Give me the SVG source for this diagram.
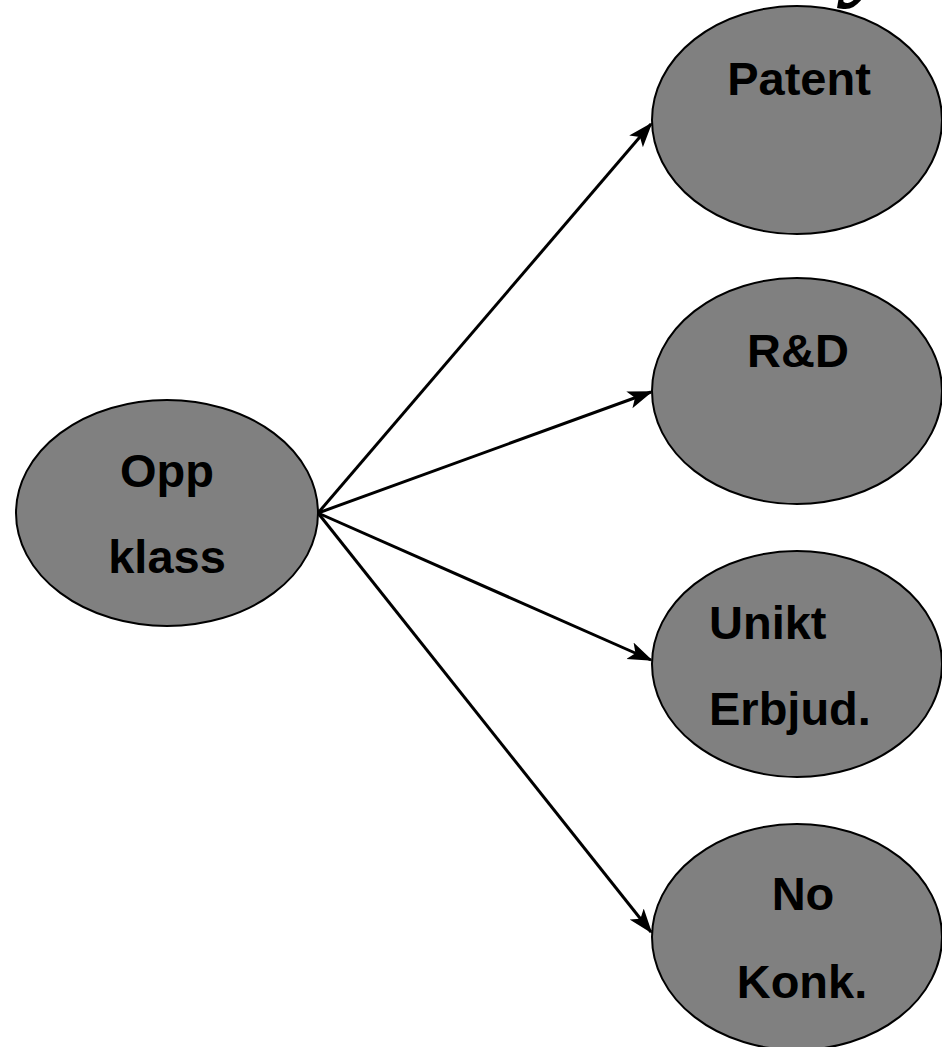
<svg xmlns="http://www.w3.org/2000/svg" width="942" height="1047" viewBox="0 0 942 1047">
<style>
.node{fill:#808080;stroke:#000;stroke-width:2}
.lbl{font-family:"Liberation Sans",Arial,sans-serif;font-weight:bold;font-size:47px;fill:#000}
.conn{stroke:#000;stroke-width:3;fill:none}
</style>
<defs>
<marker id="arr" markerUnits="userSpaceOnUse" markerWidth="28" markerHeight="22" viewBox="0 0 28 22" refX="23" refY="11" orient="auto">
<path d="M0,2 L25,11 L0,20 L6,11 Z" fill="#000"/>
</marker>
</defs>
<text x="848" y="-14" font-family="'Liberation Serif',serif" font-weight="bold" font-style="italic" font-size="110">y</text>
<g id="connectors">
<line class="conn" x1="318" y1="513" x2="651" y2="124" marker-end="url(#arr)"/>
<line class="conn" x1="318" y1="513" x2="651" y2="392" marker-end="url(#arr)"/>
<line class="conn" x1="318" y1="513" x2="651" y2="660" marker-end="url(#arr)"/>
<line class="conn" x1="318" y1="513" x2="651" y2="932" marker-end="url(#arr)"/>
</g>
<g id="opp">
<ellipse class="node" cx="167" cy="513" rx="151" ry="113"/>
<text class="lbl" x="167" y="487" text-anchor="middle">Opp</text>
<text class="lbl" x="167" y="573" text-anchor="middle">klass</text>
</g>
<g id="patent">
<ellipse class="node" cx="797" cy="120" rx="145" ry="114"/>
<text class="lbl" x="799" y="95" text-anchor="middle">Patent</text>
</g>
<g id="rd">
<ellipse class="node" cx="797" cy="391" rx="145" ry="113"/>
<text class="lbl" x="798" y="367" text-anchor="middle">R&amp;D</text>
</g>
<g id="unikt">
<ellipse class="node" cx="797" cy="664" rx="145" ry="113"/>
<text class="lbl" x="709" y="639">Unikt</text>
<text class="lbl" x="709" y="725">Erbjud.</text>
</g>
<g id="nokonk">
<ellipse class="node" cx="797" cy="937" rx="145" ry="113"/>
<text class="lbl" x="803" y="910" text-anchor="middle">No</text>
<text class="lbl" x="802" y="998" text-anchor="middle">Konk.</text>
</g>
</svg>
